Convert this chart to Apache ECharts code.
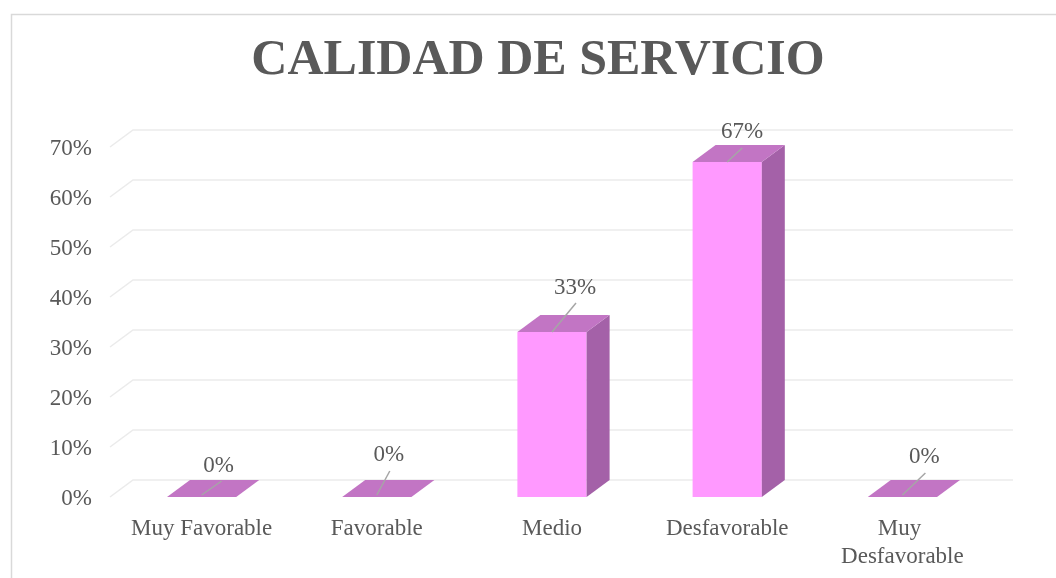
<!DOCTYPE html>
<html>
<head>
<meta charset="utf-8">
<script src="https://cdn.jsdelivr.net/npm/echarts@6/dist/echarts.min.js"></script>
<style>
html,body{margin:0;padding:0;background:#fff;}
#chart{width:1056px;height:578px;}
</style>
</head>
<body>
<div id="chart"></div>
<script>
// ---- data ----
const categories = ['Muy Favorable', 'Favorable', 'Medio', 'Desfavorable', 'Muy Desfavorable'];
const values = [0, 0, 33, 67, 0];            // percent
const yTicks = [0, 10, 20, 30, 40, 50, 60, 70];
const titleText = 'CALIDAD DE SERVICIO';

// ---- layout / style (not data) ----
const DX = 23, DY = -17;                      // 3D depth offset
const FRONT = '#FF99FF', TOP = '#C275C4', SIDE = '#A461A8';
const TEXT = '#595959';
const FONT = '"Liberation Serif", "Times New Roman", serif';
// per-category label layout: [lineEndDx, lineEndDy, textDx, textDy]
const labelLayout = [[20, -16, 17, -31], [13, -26, 12, -42], [24, -29, 23, -44], [15, -14, 15, -30], [23, -24, 22, -40]];

const chart = echarts.init(document.getElementById('chart'), null, {renderer: 'canvas'});

function renderGrid(params, api) {
  const cs = params.coordSys;
  const p = api.coord([0, api.value(1)]);
  const y = p[1];
  const x0 = cs.x - 4;
  return {
    type: 'polyline',
    shape: {points: [[x0, y], [x0 + DX, y + DY], [cs.x + cs.width + DX, y + DY]]},
    style: {stroke: '#ebebeb', lineWidth: 1.5, fill: null}
  };
}

function renderBar(params, api) {
  const idx = params.dataIndex;
  const v = api.value(1);
  const top = api.coord([api.value(0), v]);
  const base = api.coord([api.value(0), 0]);
  const w = api.size([1, 0])[0] * 0.395;
  const xl = top[0] - w / 2, xr = top[0] + w / 2;
  const ty = top[1], by = base[1];
  const children = [];
  if (v > 0) {
    children.push({type: 'rect', shape: {x: xl, y: ty, width: w, height: by - ty}, style: {fill: FRONT}});
    children.push({type: 'polygon', shape: {points: [[xr, ty], [xr + DX, ty + DY], [xr + DX, by + DY], [xr, by]]}, style: {fill: SIDE}});
  }
  children.push({type: 'polygon', shape: {points: [[xl, ty], [xr, ty], [xr + DX, ty + DY], [xl + DX, ty + DY]]}, style: {fill: TOP}});
  const o = labelLayout[idx];
  const sy = v > 0 ? ty : ty - 2;
  children.push({type: 'line', shape: {x1: top[0], y1: sy, x2: top[0] + o[0], y2: ty + o[1]}, style: {stroke: '#a6a6a6', lineWidth: 1.5}});
  children.push({type: 'text', x: top[0] + o[2], y: ty + o[3], style: {text: v + '%', fill: TEXT, font: '23px ' + FONT, align: 'center', verticalAlign: 'middle'}});
  return {type: 'group', children: children};
}

const option = {
  animation: false,
  backgroundColor: '#ffffff',
  graphic: [
    {type: 'rect', left: 9, top: 12, shape: {x: 0.5, y: 0.5, width: 1200, height: 800}, style: {fill: null, stroke: '#d9d9d9', lineWidth: 1.5}, silent: true, z: -10},
    {type: 'text', x: 538, y: 61, style: {text: titleText, fill: TEXT, font: 'bold 50px ' + FONT, align: 'center', verticalAlign: 'middle'}}
  ],
  grid: {left: 114, right: 66, top: 147, bottom: 81, containLabel: false},
  xAxis: {
    type: 'category',
    data: categories,
    axisLine: {show: false},
    axisTick: {show: false},
    splitLine: {show: false},
    axisLabel: {
      color: TEXT, fontFamily: FONT, fontSize: 23, margin: 18, lineHeight: 28,
      width: 160, overflow: 'break', interval: 0
    }
  },
  yAxis: {
    type: 'value',
    min: 0, max: 70, interval: 10,
    axisLine: {show: false},
    axisTick: {show: false},
    splitLine: {show: false},
    axisLabel: {color: TEXT, fontFamily: FONT, fontSize: 23, margin: 22, formatter: '{value}%', verticalAlign: 'top', padding: [-10, 0, 0, 0]}
  },
  series: [
    {
      type: 'custom', silent: true, z: 1,
      renderItem: renderGrid,
      encode: {x: 0, y: 1},
      data: yTicks.map(t => [0, t])
    },
    {
      type: 'custom', silent: true, z: 5,
      renderItem: renderBar,
      encode: {x: 0, y: 1},
      data: values.map((v, i) => [i, v])
    }
  ]
};
chart.setOption(option);
</script>
</body>
</html>
